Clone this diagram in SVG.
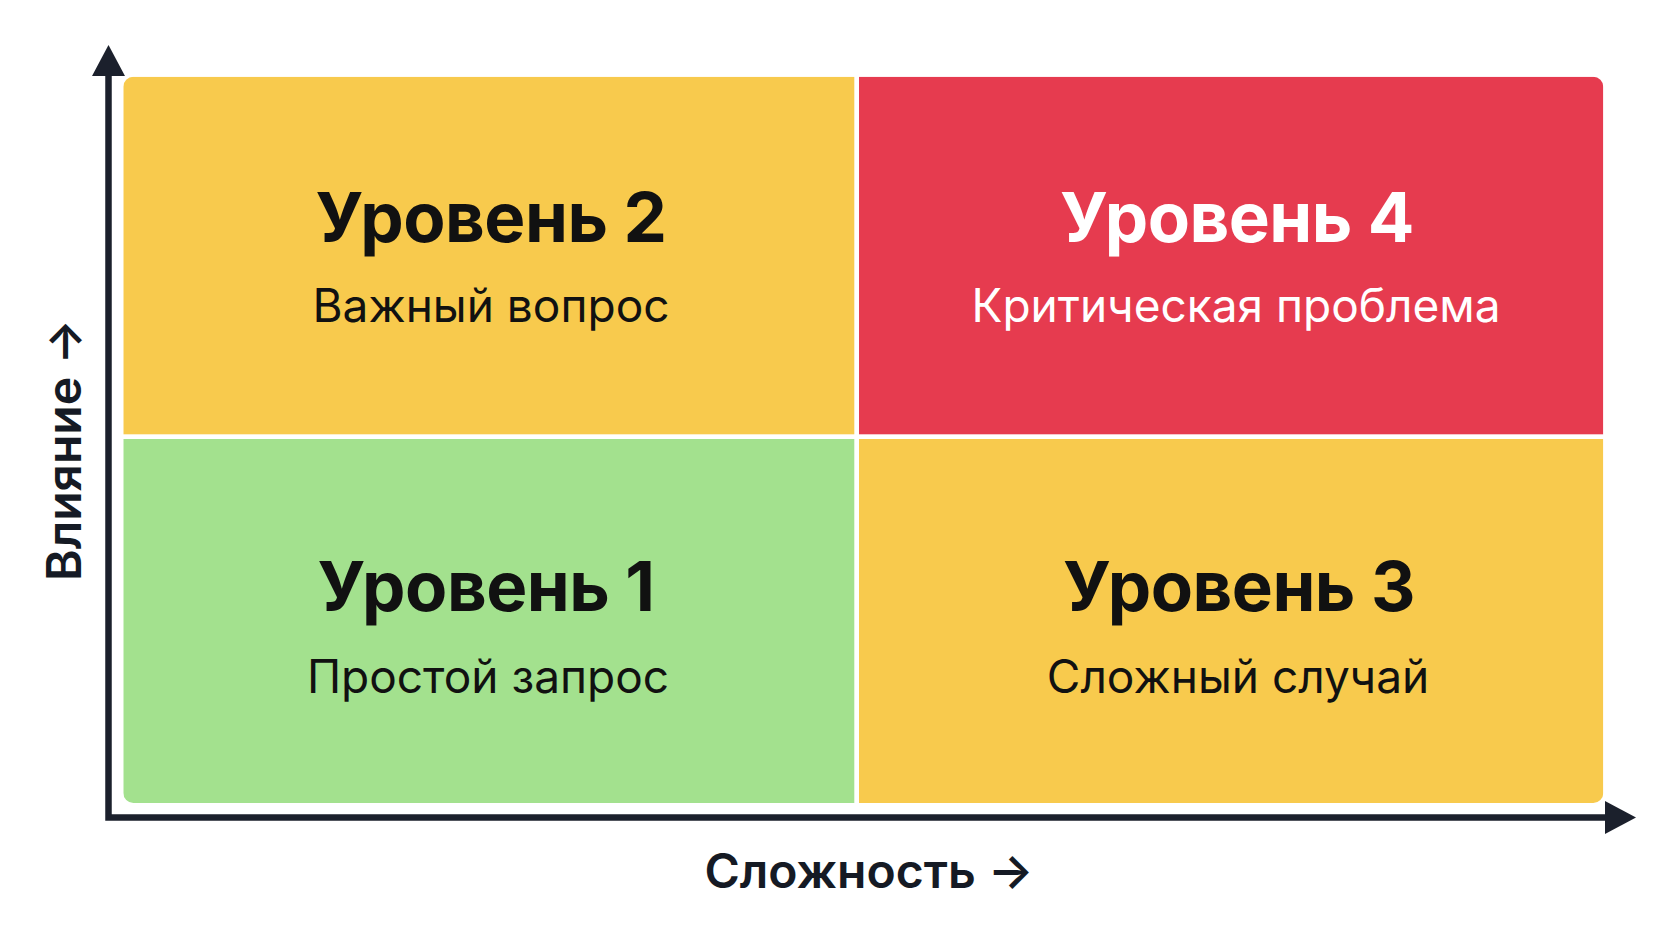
<svg xmlns="http://www.w3.org/2000/svg" width="1672" height="941" viewBox="0 0 1672 941">
  <defs>
    <style>
      .title { font-family: Inter, "Noto Sans", "Liberation Sans", sans-serif; font-weight: 700; font-size: 69px; text-anchor: middle; letter-spacing: -0.5px; }
      .sub { font-family: Inter, "Noto Sans", "Liberation Sans", sans-serif; font-weight: 400; font-size: 46px; text-anchor: middle; }
      .axislabel { font-family: Inter, "Noto Sans", "Liberation Sans", sans-serif; font-weight: 600; font-size: 48px; text-anchor: middle; fill: #151a24; }
      .dark { fill: #111111; }
      .light { fill: #ffffff; }
      .yellow { fill: #F8CA4D; }
      .red { fill: #E63B4F; }
      .green { fill: #A3E18E; }
      .axis { fill: none; stroke: #1b202c; stroke-width: 6.5; stroke-linejoin: miter; }
    </style>
    <clipPath id="grid">
      <rect x="123.3" y="76.7" width="1480" height="726.3" rx="10" ry="10"/>
    </clipPath>
    <marker id="head" markerUnits="userSpaceOnUse" markerWidth="32" markerHeight="33" viewBox="0 0 32 33" refX="2" refY="16.5" orient="auto-start-reverse">
      <path d="M0,0 L31,16.5 L0,33 z" fill="#1b202c"/>
    </marker>
  </defs>
  <rect x="0" y="0" width="1672" height="941" fill="#ffffff"/>

  <g id="level2">
    <rect class="yellow" x="123.3" y="76.7" width="731" height="357.6" clip-path="url(#grid)"/>
    <text class="title dark" x="491" y="242">Уровень 2</text>
    <text class="sub dark" x="491" y="322">Важный вопрос</text>
  </g>
  <g id="level4">
    <rect class="red" x="859" y="76.7" width="744.3" height="357.6" clip-path="url(#grid)"/>
    <text class="title light" x="1237" y="242">Уровень 4</text>
    <text class="sub light" x="1236" y="322">Критическая проблема</text>
  </g>
  <g id="level1">
    <rect class="green" x="123.3" y="439" width="731" height="364" clip-path="url(#grid)"/>
    <text class="title dark" x="486" y="611">Уровень 1</text>
    <text class="sub dark" x="488" y="693">Простой запрос</text>
  </g>
  <g id="level3">
    <rect class="yellow" x="859" y="439" width="744.3" height="364" clip-path="url(#grid)"/>
    <text class="title dark" x="1239" y="611">Уровень 3</text>
    <text class="sub dark" x="1238" y="693">Сложный случай</text>
  </g>

  <g id="connectors">
    <path class="axis" d="M108.5,74 V817.5 H1607" marker-start="url(#head)" marker-end="url(#head)"/>
  </g>

  <g id="axis-labels">
    <text class="axislabel" x="869" y="888">Сложность →</text>
    <text class="axislabel" transform="translate(81,450) rotate(-90)" x="0" y="0">Влияние →</text>
  </g>
</svg>
